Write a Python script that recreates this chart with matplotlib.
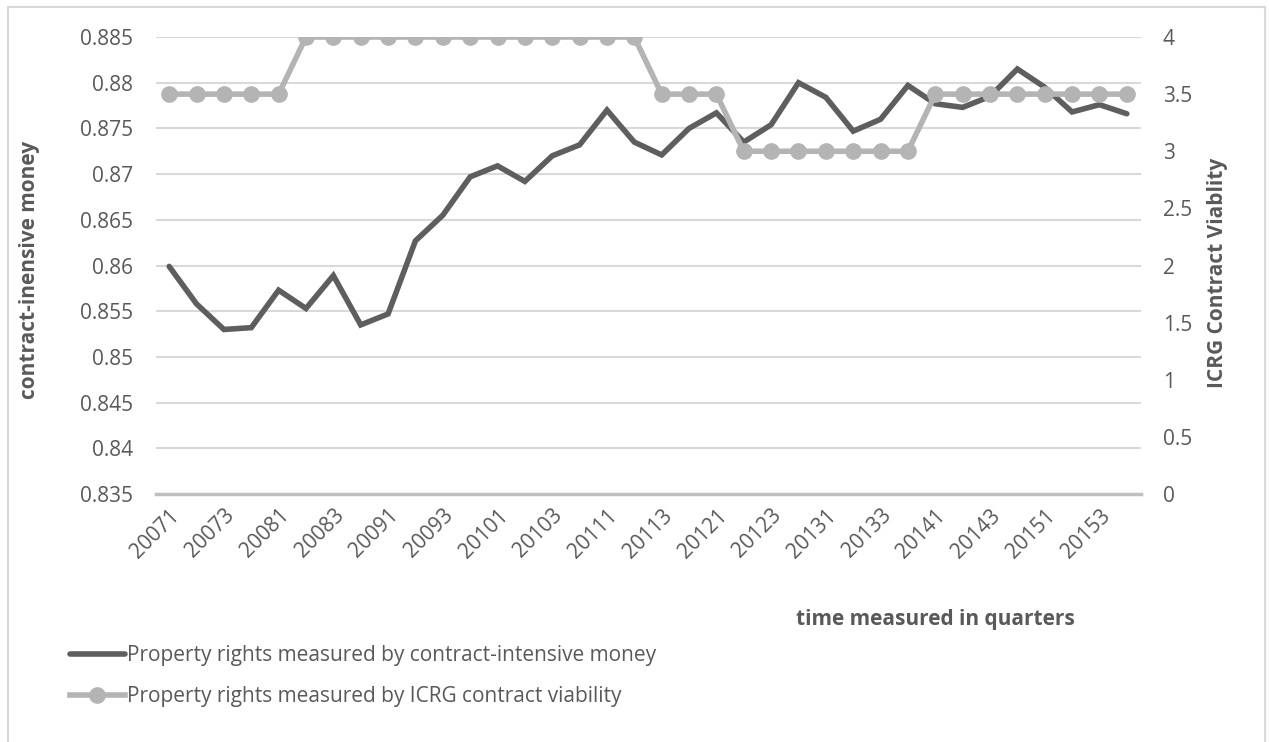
import matplotlib.pyplot as plt
from matplotlib.patches import Rectangle

plt.rcParams['font.family'] = ['Open Sans', 'DejaVu Sans']

quarters = [str(y) + str(q) for y in range(2007, 2016) for q in range(1, 5)]

# contract-intensive money (left axis)
cim = [0.8599, 0.8558, 0.8530, 0.8532, 0.8573, 0.8553, 0.8589, 0.8535, 0.8547, 0.8627,
       0.8655, 0.8697, 0.8709, 0.8692, 0.8720, 0.8732, 0.8770, 0.8735, 0.8721, 0.8750,
       0.8767, 0.8735, 0.8754, 0.8800, 0.8784, 0.8747, 0.8760, 0.8797, 0.8777, 0.8773,
       0.8785, 0.8815, 0.8795, 0.8768, 0.8776, 0.8766]

# ICRG contract viability (right axis)
icrg = [3.5, 3.5, 3.5, 3.5, 3.5, 4, 4, 4, 4, 4,
        4, 4, 4, 4, 4, 4, 4, 4, 3.5, 3.5,
        3.5, 3, 3, 3, 3, 3, 3, 3, 3.5, 3.5,
        3.5, 3.5, 3.5, 3.5, 3.5, 3.5]

left_ticks = [0.835, 0.84, 0.845, 0.85, 0.855, 0.86, 0.865, 0.87, 0.875, 0.88, 0.885]
left_labels = ['0.835', '0.84', '0.845', '0.85', '0.855', '0.86', '0.865', '0.87', '0.875', '0.88', '0.885']
right_ticks = [0, 0.5, 1, 1.5, 2, 2.5, 3, 3.5, 4]
right_labels = ['0', '0.5', '1', '1.5', '2', '2.5', '3', '3.5', '4']

txt = '#595959'
dark = '#5e5e5e'
light = '#b4b4b4'
grid = '#d9d9d9'

fig = plt.figure(figsize=(12.69, 7.42), dpi=100)
W, H = 1269, 742
ax = fig.add_axes([155.5 / W, 1 - 494 / H, (1140.5 - 155.5) / W, (494 - 37) / H])
ax2 = ax.twinx()

x = list(range(len(quarters)))
l1, = ax.plot(x, cim, color=dark, lw=4, solid_capstyle='round', solid_joinstyle='miter',
              label='Property rights measured by contract-intensive money')
l2, = ax2.plot(x, icrg, color=light, lw=4, marker='o', ms=11,
               label='Property rights measured by ICRG contract viability')

ax.set_xlim(-0.5, len(quarters) - 0.5)
ax.set_ylim(0.835, 0.885)
ax2.set_ylim(0, 4)
ax.set_yticks(left_ticks)
ax.set_yticklabels(left_labels)
ax2.set_yticks(right_ticks)
ax2.set_yticklabels(right_labels)

ax.set_xticks(x[::2])
ax.set_xticklabels(quarters[::2], rotation=45, ha='right', rotation_mode='anchor')

for a in (ax, ax2):
    for s in a.spines.values():
        s.set_visible(False)
    a.tick_params(axis='y', length=0, pad=16, labelsize=15, labelcolor=txt)
ax.tick_params(axis='x', length=0, pad=8, labelsize=15, labelcolor=txt)

ax.yaxis.grid(True, color=grid, lw=1.5)
ax.set_axisbelow(True)
ax.spines['bottom'].set_visible(True)
ax.spines['bottom'].set_color('#bfbfbf')
ax.spines['bottom'].set_linewidth(2.5)

fig.text(30 / W, 1 - 270 / H, 'contract-inensive money', rotation=90, ha='center', va='center',
         fontsize=15, fontweight='bold', color=txt)
fig.text(1218 / W, 1 - 273 / H, 'ICRG Contract Viablity', rotation=90, ha='center', va='center',
         fontsize=15, fontweight='bold', color=txt)
fig.text(935 / W, 1 - 620 / H, 'time measured in quarters', ha='center', va='center',
         fontsize=15, fontweight='bold', color=txt)

fig.legend(handles=[l1, l2], loc='upper left', bbox_to_anchor=(62 / W, 1 - 637 / H),
           frameon=False, fontsize=15, labelcolor=txt, handlelength=2.6,
           handletextpad=0.1, labelspacing=0.95, borderaxespad=0)

fig.patches.append(Rectangle((8 / W, -0.05), (1265 - 8) / W, 1.05 - 7 / H,
                             transform=fig.transFigure, fill=False, ec=grid, lw=1.5))

fig.savefig('out.png', dpi=100)
